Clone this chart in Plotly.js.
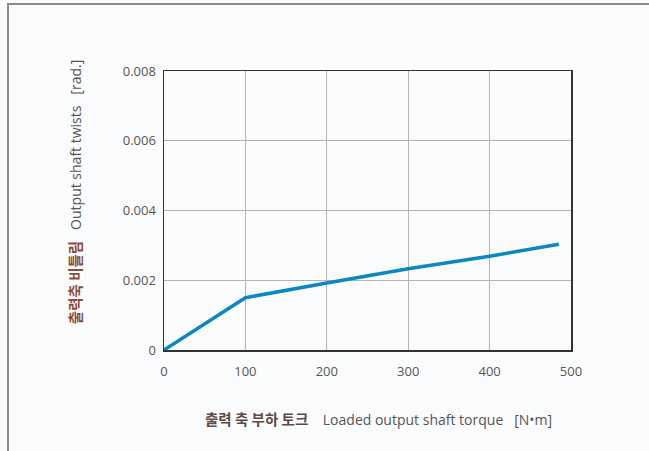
<!DOCTYPE html>
<html>
<head>
<meta charset="utf-8">
<script src="https://cdn.plot.ly/plotly-3.0.1.min.js"></script>
<style>
  html, body { margin: 0; padding: 0; background: #fbfcfd; }
  #wrap { position: relative; width: 649px; height: 451px; }
  #chart { position: absolute; left: 0; top: 0; width: 649px; height: 451px; }
  #frame { position: absolute; left: 7px; top: 3px; width: 642px; height: 448px;
           border-left: 2px solid #8c8c8c; border-top: 2px solid #8c8c8c; pointer-events: none; }
</style>
</head>
<body>
<div id="wrap">
  <div id="chart"></div>
  <div id="frame"></div>
</div>
<script>
// Data
const torque = [0, 100, 200, 300, 400, 485];          // N·m
const twist  = [0, 0.0015, 0.00192, 0.00233, 0.00269, 0.00303]; // rad
const xTickVals = [0, 100, 200, 300, 400, 500];
const yTickVals = [0, 0.002, 0.004, 0.006, 0.008];
const yTickText = ['0', '0.002', '0.004', '0.006', '0.008'];
const xTitleKo = '출력 축 부하 토크';
const xTitleEn = 'Loaded output shaft torque&nbsp;&nbsp;&nbsp;[N•m]';
const yTitleKo = '출력축 비틀림';
const yTitleEn = 'Output shaft twists&nbsp;&nbsp;&nbsp;[rad.]';

const fontFam = '"Open Sans", "Noto Sans", "Noto Sans CJK KR", sans-serif';

const trace = {
  x: torque, y: twist, type: 'scatter', mode: 'lines',
  line: { color: '#0a88bf', width: 3.5 },
  hoverinfo: 'skip'
};

const koStyle = (c) => '<span style="color:' + c + ';font-weight:bold;font-size:14.5px;font-family:\'Noto Sans CJK KR\'">';

const layout = {
  width: 649, height: 451,
  margin: { l: 164, r: 78, t: 71, b: 101, pad: 0 },
  paper_bgcolor: 'rgba(0,0,0,0)',
  plot_bgcolor: '#fbfcfd',
  showlegend: false,
  font: { family: fontFam, size: 13, color: '#555' },
  xaxis: {
    range: [0, 500], tickvals: xTickVals, ticktext: xTickVals.map(String),
    showgrid: true, gridcolor: '#b4b4b4', gridwidth: 1,
    showline: true, linecolor: '#333', linewidth: 1.5, mirror: true,
    zeroline: false, ticks: 'outside', ticklen: 9, tickcolor: 'rgba(0,0,0,0)',
    tickfont: { family: fontFam, size: 13, color: '#555' }, fixedrange: true
  },
  yaxis: {
    range: [0, 0.008], tickvals: yTickVals, ticktext: yTickText,
    showgrid: true, gridcolor: '#b4b4b4', gridwidth: 1,
    showline: true, linecolor: '#333', linewidth: 1.5, mirror: true,
    zeroline: false, ticks: 'outside', ticklen: 4, tickcolor: 'rgba(0,0,0,0)',
    tickfont: { family: fontFam, size: 13, color: '#555' }, fixedrange: true
  },
  annotations: [
    {
      xref: 'paper', yref: 'paper', x: 0.528, y: -0.247,
      xanchor: 'center', yanchor: 'middle', showarrow: false,
      text: koStyle('#5e4a44') + xTitleKo + '</span>&nbsp;&nbsp;&nbsp;&nbsp;' + xTitleEn,
      font: { family: fontFam, size: 14, color: '#555' }
    },
    {
      xref: 'paper', yref: 'paper', x: -0.221, y: 0.566,
      xanchor: 'center', yanchor: 'middle', showarrow: false, textangle: -90,
      text: koStyle('#8a4b3c') + yTitleKo + '</span>&nbsp;&nbsp;&nbsp;' + yTitleEn,
      font: { family: fontFam, size: 14, color: '#555' }
    }
  ]
};

Plotly.newPlot('chart', [trace], layout, { displayModeBar: false, staticPlot: true });
</script>
</body>
</html>
